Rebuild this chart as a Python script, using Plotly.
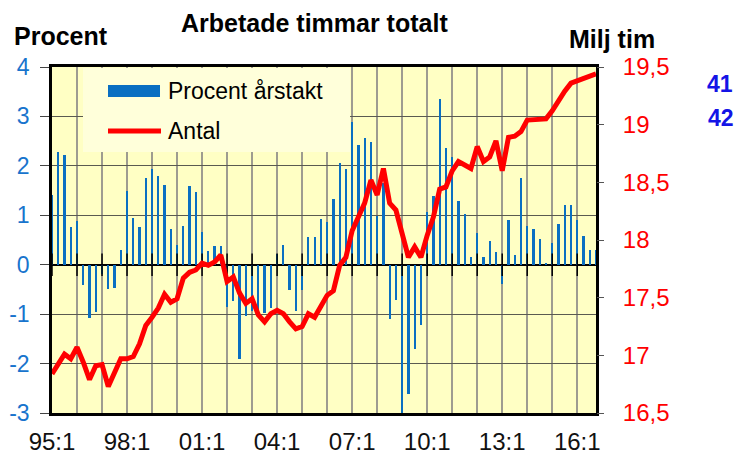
import plotly.graph_objects as go

# ---------------- data ----------------
quarters = [f"{(95 + i // 4) % 100:02d}:{i % 4 + 1}" for i in range(88)]

procent_arstakt = [
    1.42, 2.28, 2.22, 0.76, 0.88, -0.42, -1.07, -0.95, -0.18, -0.49,
    -0.47, 0.29, 1.49, 0.95, 0.76, 1.76, 1.93, 1.80, 1.61, 0.73,
    0.39, 0.78, 1.59, 1.47, 0.66, 0.27, 0.38, 0.38, -0.86, -0.74,
    -1.91, -1.03, -0.93, -1.00, -0.98, -0.87, 0.22, 0.39, -0.52, -0.93,
    -0.52, 0.57, 0.57, 0.92, 0.86, 1.32, 2.06, 1.93, 2.89, 2.42,
    2.57, 2.49, 0.99, 1.65, -1.09, -0.71, -2.99, -2.61, -1.70, -1.22,
    1.07, 1.39, 3.35, 2.37, 2.18, 1.29, 1.02, 0.16, 0.64, 0.16,
    0.47, 0.26, -0.39, 0.90, 0.20, 1.76, 0.78, 0.73, 0.53, 0.03,
    0.44, 0.82, 1.20, 1.20, 0.90, 0.59, 0.29, 0.29,
]

antal = [
    16.84, 16.93, 17.01, 16.97, 17.07, 16.94, 16.79, 16.91, 16.92, 16.73,
    16.85, 16.97, 16.97, 16.99, 17.10, 17.26, 17.33, 17.41, 17.53, 17.46,
    17.49, 17.67, 17.72, 17.74, 17.80, 17.78, 17.81, 17.87, 17.64, 17.68,
    17.54, 17.45, 17.49, 17.35, 17.29, 17.36, 17.39, 17.36, 17.29, 17.23,
    17.25, 17.36, 17.33, 17.42, 17.52, 17.56, 17.78, 17.85, 18.08, 18.20,
    18.32, 18.52, 18.39, 18.62, 18.32, 18.26, 18.06, 17.85, 17.94, 17.85,
    18.04, 18.20, 18.44, 18.46, 18.60, 18.68, 18.65, 18.62, 18.81, 18.68,
    18.72, 18.86, 18.60, 18.89, 18.90, 18.94, 19.04, 19.04, 19.04, 19.05,
    19.12, 19.21, 19.29, 19.36, 19.38, 19.40, 19.42, 19.44,
]

year_ticks = quarters[::4]
tick_labels = [q if i % 3 == 0 else "" for i, q in enumerate(year_ticks)]
left_ticks = [-3, -2, -1, 0, 1, 2, 3, 4]
left_labels = ["-3", "-2", "-1", "0", "1", "2", "3", "4"]
right_ticks = [16.5, 17, 17.5, 18, 18.5, 19, 19.5]
right_labels = ["16,5", "17", "17,5", "18", "18,5", "19", "19,5"]

# ---------------- layout helpers ----------------
# the page body adds an 8px margin, so the figure is drawn 8px smaller
OFF = 8
W, H = 751 - OFF, 463 - OFF
L, R, T, B = 52 - OFF, 596 - OFF, 67 - OFF, 413 - OFF


def px(x):
    return (x - OFF - L) / (R - L)


def py(y):
    return (B - (y - OFF)) / (B - T)


FONT = "Liberation Sans, Arial, Helvetica, sans-serif"
BLUE_BAR = "#0A6FC2"
RED = "#FF0000"

fig = go.Figure()
fig.add_bar(x=quarters, y=procent_arstakt, width=0.36,
            marker=dict(color=BLUE_BAR, line=dict(width=0)),
            name="Procent årstakt", showlegend=False, hoverinfo="skip")
fig.add_scatter(x=year_ticks, y=[0] * len(year_ticks), mode="markers",
                marker=dict(symbol="line-ns", size=16,
                            line=dict(width=1.5, color="black")),
                showlegend=False, hoverinfo="skip")
fig.add_scatter(x=quarters, y=antal, yaxis="y2", mode="lines",
                line=dict(color=RED, width=5), name="Antal",
                showlegend=False, hoverinfo="skip")

fig.update_layout(
    width=W, height=H,
    margin=dict(l=L, r=W - R, t=T, b=H - B, pad=0, autoexpand=False),
    paper_bgcolor="white",
    plot_bgcolor="#FFFFC4",
    font=dict(family=FONT, size=24, color="black"),
    showlegend=False,
    bargap=0,
    xaxis=dict(
        type="category", range=[0, 87], automargin=False,
        tickmode="array", tickvals=year_ticks, ticktext=tick_labels,
        ticks="", showgrid=True, gridcolor="#9E9C90", gridwidth=2,
        showline=True, linecolor="black", linewidth=2.5, mirror=True,
        tickfont=dict(size=24, color="#111111"), ticklabelstandoff=5,
    ),
    yaxis=dict(
        range=[-3, 4], tickmode="array", tickvals=left_ticks,
        ticktext=left_labels, automargin=False,
        showgrid=True, gridcolor="#5A5A50", gridwidth=1,
        zeroline=True, zerolinecolor="black", zerolinewidth=1.5,
        ticks="outside", ticklen=9, tickcolor="#444444", tickwidth=1,
        showline=True, linecolor="black", linewidth=2.5, mirror=True,
        tickfont=dict(size=23, color="#1874CD"), ticklabelstandoff=6,
    ),
    yaxis2=dict(
        overlaying="y", side="right", range=[16.5, 19.5], automargin=False,
        tickmode="array", tickvals=right_ticks, ticktext=right_labels,
        showgrid=False, zeroline=False,
        ticks="outside", ticklen=7, tickcolor="#555555", tickwidth=1,
        tickfont=dict(size=24, color=RED), ticklabelstandoff=14,
    ),
)

shapes = [
    # legend box
    dict(type="rect", xref="paper", yref="paper", layer="above",
         x0=px(83), x1=px(350), y0=py(152), y1=py(68),
         fillcolor="#FFFFDA", line=dict(width=0)),
    dict(type="rect", xref="paper", yref="paper", layer="above",
         x0=px(108), x1=px(160), y0=py(97), y1=py(85),
         fillcolor=BLUE_BAR, line=dict(width=0)),
    dict(type="line", xref="paper", yref="paper", layer="above",
         x0=px(108), x1=px(161), y0=py(131), y1=py(131),
         line=dict(color=RED, width=5)),
]

annotations = [
    dict(text="<b>Arbetade timmar totalt</b>", x=px(314), y=py(23),
         font=dict(size=25, color="black")),
    dict(text="<b>Procent</b>", x=px(61), y=py(36),
         font=dict(size=25, color="black")),
    dict(text="<b>Milj tim</b>", x=px(612), y=py(39),
         font=dict(size=25, color="black")),
    dict(text="<b>41</b>", x=px(720), y=py(84),
         font=dict(size=23, color="#1414E6")),
    dict(text="<b>42</b>", x=px(721), y=py(118),
         font=dict(size=23, color="#1414E6")),
    dict(text="Procent årstakt", x=px(166), y=py(91), xanchor="left",
         font=dict(size=23, color="black")),
    dict(text="Antal", x=px(166), y=py(131), xanchor="left",
         font=dict(size=23, color="black")),
]
for a in annotations:
    a.setdefault("xanchor", "center")
    a.update(xref="paper", yref="paper", yanchor="middle", showarrow=False)

fig.update_layout(shapes=shapes, annotations=annotations)

fig.write_html("out.html")
